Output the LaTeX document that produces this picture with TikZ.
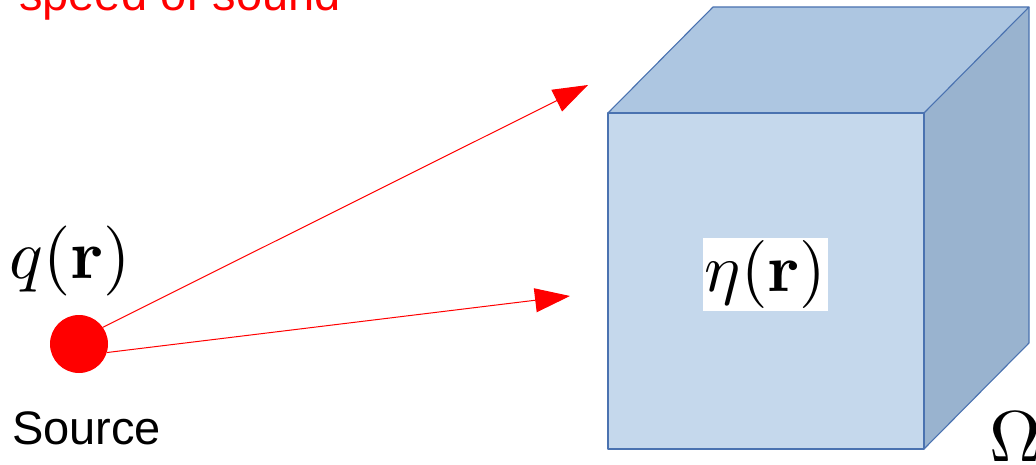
\documentclass[tikz,border=0pt]{standalone}
\usepackage[no-math]{fontspec}
\setmainfont{Liberation Sans}
\usetikzlibrary{arrows.meta}
\definecolor{frontc}{HTML}{C5D8EC}
\definecolor{topc}{HTML}{ADC6E1}
\definecolor{sidec}{HTML}{99B3CF}
\definecolor{edgec}{HTML}{4A72B0}
\tikzset{
  face/.style={draw=edgec, line width=1.1pt, line join=round},
  ray/.style={draw=red, line width=1pt, -{Triangle[length=35pt,width=24pt]}},
  bigtext/.style={font=\fontsize{47}{56}\selectfont, inner sep=0pt, anchor=base west},
}
\begin{document}
\begin{tikzpicture}[x=1pt,y=-1pt]
\useasboundingbox (0,0) rectangle (1036,465);
% cube corners
\coordinate (f1) at (608,113);
\coordinate (f2) at (924,113);
\coordinate (f3) at (924,449);
\coordinate (f4) at (608,449);
\coordinate (b1) at (713,7);
\coordinate (b2) at (1029,7);
\coordinate (b3) at (1029,343);
\fill[topc] (f1) -- (b1) -- (b2) -- (f2) -- cycle;
\fill[sidec] (f2) -- (b2) -- (b3) -- (f3) -- cycle;
\fill[frontc] (f1) -- (f2) -- (f3) -- (f4) -- cycle;
\draw[face] (f1) -- (b1) -- (b2) -- (f2);
\draw[face] (b2) -- (b3) -- (f3);
\draw[face] (f1) -- (f2) -- (f3) -- (f4) -- cycle;
% labels
\node[fill=white, inner sep=0.3pt, scale=6.8] (eta) at (765.5,274.5) {$\eta(\mathbf{r})$};
\node[scale=7.0, inner sep=0pt] (q) at (70,261) {$q(\mathbf{r})$};
\node[scale=7.2, inner sep=0pt, anchor=base west] (omega) at (988,461) {$\Omega$};
\node[bigtext, text=red] (sos) at (19,11) {speed of sound};
\node[bigtext] (srcl) at (12,444) {Source};
% source and rays
\node[circle, fill=red, minimum size=58pt, inner sep=0pt] (src) at (79,344) {};
\coordinate (t1) at (588,85);
\coordinate (t2) at (570,296);
\draw[ray] (src.35) -- (t1);
\draw[ray] (src.-17) -- (t2);
\end{tikzpicture}
\end{document}
